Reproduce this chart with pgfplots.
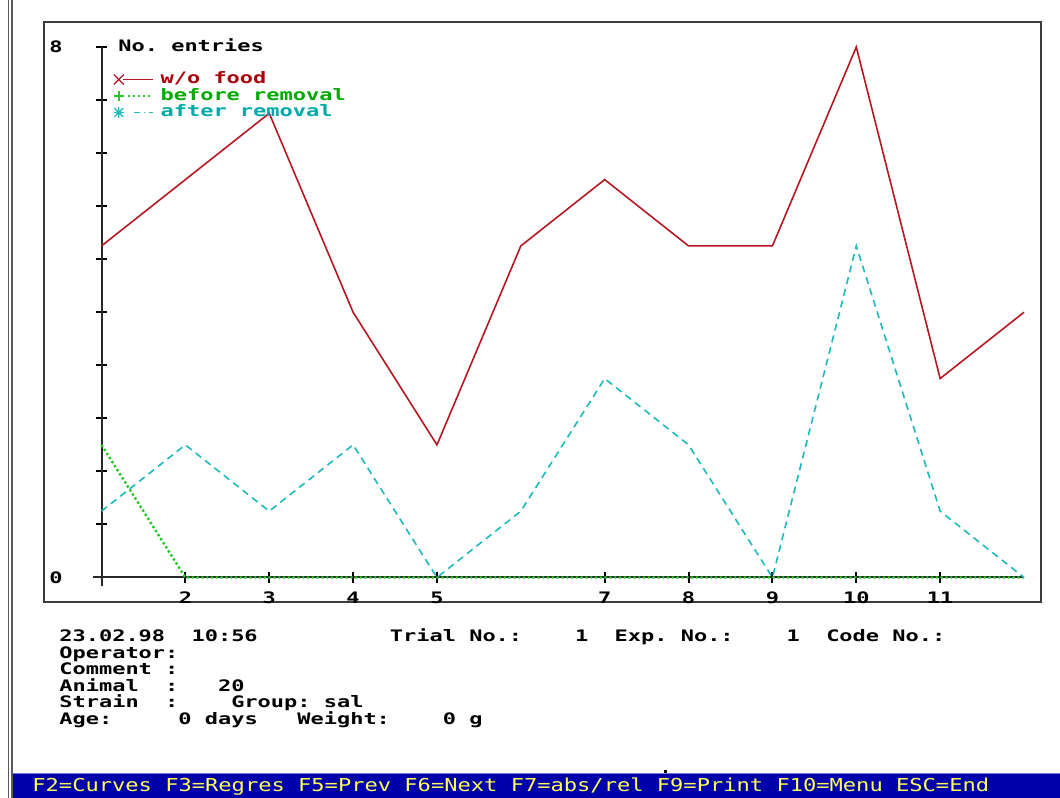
\documentclass[border=0pt]{standalone}
\usepackage{pgfplots}
\pgfplotsset{compat=1.18}
\usepackage{fontspec}
\setmainfont{DejaVu Sans Mono}
\newfontfamily\dos[FakeStretch=1.39]{DejaVu Sans Mono}
\newfontfamily\vga[FakeStretch=1.24]{DejaVu Sans Mono}
\newcommand\dosf{\dos\bfseries\fontsize{7.9bp}{9bp}\selectfont\frenchspacing}
\newcommand\vgaf{\vga\fontsize{8.9bp}{10bp}\selectfont\frenchspacing}
\definecolor{redline}{RGB}{180,25,35}
\definecolor{redtext}{RGB}{170,0,10}
\definecolor{greenline}{RGB}{40,200,40}
\definecolor{greentext}{RGB}{0,170,0}
\definecolor{cyanline}{RGB}{30,185,190}
\definecolor{cyantext}{RGB}{0,170,170}
\definecolor{axisgray}{RGB}{40,40,40}
\definecolor{framegray}{RGB}{60,60,60}
\definecolor{dosblue}{RGB}{0,0,170}
\definecolor{dosyellow}{RGB}{255,255,85}
\begin{document}
\begin{tikzpicture}[x=0.5bp,y=0.5bp]
\path[use as bounding box] (0,0) rectangle (1060,798);
\fill[white] (0,0) rectangle (1060,798);
% left double border
\draw[line width=0.75bp, color={rgb,255:red,90;green,90;blue,90}] (8.5,0) -- (8.5,798);
\draw[line width=0.75bp, color={rgb,255:red,90;green,90;blue,90}] (12,0) -- (12,798);
% plot frame
\draw[line width=1bp, framegray] (43.5,775.5) rectangle (1040.5,196);
\begin{axis}[
  at={(50.75bp,110.25bp)}, anchor=south west,
  scale only axis, width=461.25bp, height=265.25bp,
  xmin=1, xmax=12, ymin=0, ymax=8, clip=false, enlargelimits=false,
  axis lines=left,
  axis line style={-, line width=1bp, color=axisgray, shorten <=-4.5bp},
  xtick={2,3,4,5,7,8,9,10,11}, xticklabels={2,3,4,5,7,8,9,10,11},
  ytick={0,0.8,1.6,2.4,3.2,4,4.8,5.6,6.4,7.2,8}, yticklabels={0,,,,,,,,,,8},
  tick align=center, major tick length=5.5bp,
  tick style={line width=1bp, color=black},
  ticklabel style={font=\dosf, inner sep=0pt},
  xticklabel style={anchor=north, yshift=-4.25bp},
  yticklabel style={anchor=west, xshift=-23.5bp},
  ylabel={No. entries},
  every axis y label/.style={at={(axis description cs:0.0179,0.9906)}, anchor=base west, inner sep=0pt, font=\dosf},
  legend style={at={(0.0125,0.9543)}, anchor=north west, draw=none, fill=none,
    inner sep=0pt, outer sep=0pt, row sep=0pt, column sep=3.5bp, font=\dosf,
    nodes={inner sep=0pt, text height=6.375bp, text depth=1.875bp}},
  legend cell align=left,
]
\addplot[redline, line width=0.8bp,
  legend image code/.code={
    \draw[redline, solid, line width=0.8bp] (4.5bp,0) -- (19.5bp,0);
    \draw[redline, solid, line width=0.6bp] (0,-2.5bp) -- (5bp,2.5bp) (0,2.5bp) -- (5bp,-2.5bp);
  }] coordinates {(1,5) (2,6) (3,7) (4,4) (5,2) (6,5) (7,6) (8,5) (9,5) (10,8) (11,3) (12,4)};
\addlegendentry{\textcolor{redtext}{w/o food}}
\addplot[greenline, line width=1.2bp, dash pattern=on 1.2bp off 1.2bp,
  legend image code/.code={
    \draw[greenline, line width=1bp, dash pattern=on 1bp off 1.5bp] (7bp,0) -- (19bp,0);
    \draw[greenline, solid, line width=0.8bp] (0,0) -- (5bp,0) (2.5bp,-2.5bp) -- (2.5bp,2.5bp);
  }] coordinates {(1,2) (2,0) (3,0) (4,0) (5,0) (6,0) (7,0) (8,0) (9,0) (10,0) (11,0) (12,0)};
\addlegendentry{\textcolor{greentext}{before removal}}
\addplot[cyanline, line width=0.8bp, dash pattern=on 3.5bp off 2.5bp,
  legend image code/.code={
    \draw[cyanline, line width=0.8bp, dash pattern=on 3bp off 2bp on 0.75bp off 2bp] (10bp,0) -- (19.5bp,0);
    \draw[cyanline, solid, line width=0.6bp] (0.3bp,-2.2bp) -- (4.7bp,2.2bp) (0.3bp,2.2bp) -- (4.7bp,-2.2bp)
      (0,0) -- (5bp,0) (2.5bp,-2.7bp) -- (2.5bp,2.7bp);
  }] coordinates {(1,1) (2,2) (3,1) (4,2) (5,0) (6,1) (7,3) (8,2) (9,0) (10,5) (11,1) (12,0)};
\addlegendentry{\textcolor{cyantext}{after removal}}
\end{axis}
% info text
\begin{scope}[every node/.style={anchor=base west, inner sep=0pt, font=\dosf}]
\node at (59,156) {23.02.98~~10:56~~~~~~~~~~Trial~No.:~~~~1~~Exp.~No.:~~~~1~~Code~No.:};
\node at (59,139) {Operator:};
\node at (59,123) {Comment~:};
\node at (59,106) {Animal~~:~~~20};
\node at (59,90) {Strain~~:~~~~Group:~sal};
\node at (59,73) {Age:~~~~~0~days~~~Weight:~~~~0~g};
\end{scope}
% status bar
\fill[black] (664,25) rectangle (667,28);
\fill[dosblue] (13,0) rectangle (1060,24.5);
\draw[line width=0.5bp, color={rgb,255:red,120;green,120;blue,220}] (13,24.5) -- (1060,24.5);
\node[anchor=base west, inner sep=0pt, font=\vgaf, text=dosyellow] at (32,6) {F2=Curves F3=Regres F5=Prev F6=Next F7=abs/rel F9=Print F10=Menu ESC=End};
\end{tikzpicture}
\end{document}
